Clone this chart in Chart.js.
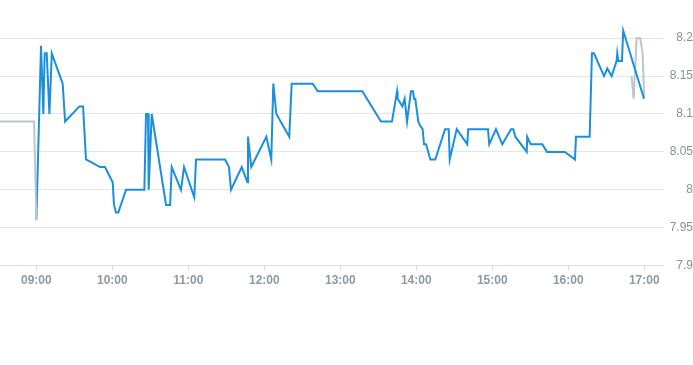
<!DOCTYPE html>
<html>
<head>
<meta charset="utf-8">
<script src="https://cdn.jsdelivr.net/npm/chart.js@4/dist/chart.umd.min.js"></script>
<style>
  html, body { margin: 0; padding: 0; background: #fff; }
  #wrap { position: relative; width: 693px; height: 365px; }
</style>
</head>
<body>
<div id="wrap"><canvas id="chart"></canvas></div>
<script>
// axis range and ticks
const xMin = '08:31:18';
const xMax = '17:15:12';
const xTickLabels = ['09:00', '10:00', '11:00', '12:00', '13:00', '14:00', '15:00', '16:00', '17:00'];
const yTickLabels = [7.9, 7.95, 8, 8.05, 8.1, 8.15, 8.2];

// pre-market (grey)
const preTimes = ['08:30:00', '08:58:12', '09:00:00'];
const preValues = [8.09, 8.09, 7.96];

// session (blue)
const sessionTimes = [
  '09:00:00', '09:03:42', '09:05:30', '09:06:36', '09:08:12', '09:10:18', '09:12:12', '09:20:48', '09:22:42', '09:34:00',
  '09:36:54', '09:39:12', '09:50:18', '09:54:12', '10:00:18', '10:01:18', '10:02:54', '10:04:42', '10:10:48', '10:25:18',
  '10:26:36', '10:28:12', '10:28:42', '10:31:06', '10:42:24', '10:45:36', '10:46:54', '10:54:12', '10:56:36', '11:04:42',
  '11:06:06', '11:29:00', '11:32:06', '11:33:42', '11:42:12', '11:46:36', '11:47:06', '11:49:42', '12:01:36', '12:05:30',
  '12:07:06', '12:09:30', '12:19:42', '12:21:36', '12:38:12', '12:42:12', '13:17:24', '13:32:06', '13:40:48', '13:44:48',
  '13:45:18', '13:49:00', '13:50:48', '13:52:42', '13:55:00', '13:55:48', '13:57:24', '13:58:12', '13:59:12', '14:01:36',
  '14:02:54', '14:05:00', '14:06:06', '14:07:42', '14:11:06', '14:15:00', '14:22:42', '14:25:36', '14:26:24', '14:31:54',
  '14:40:18', '14:41:00', '14:56:36', '14:57:36', '15:02:54', '15:07:54', '15:14:48', '15:16:36', '15:18:12', '15:27:12',
  '15:27:36', '15:30:18', '15:39:30', '15:43:12', '15:57:24', '16:05:18', '16:06:06', '16:16:54', '16:18:42', '16:20:18',
  '16:28:12', '16:30:48', '16:34:18', '16:38:12', '16:38:42', '16:39:30', '16:42:24', '16:43:24', '16:59:48'
];
const sessionValues = [
  7.96, 8.19, 8.10, 8.18, 8.18, 8.10, 8.18, 8.14, 8.09, 8.11,
  8.11, 8.04, 8.03, 8.03, 8.01, 7.98, 7.97, 7.97, 8.00, 8.00,
  8.10, 8.10, 8.00, 8.10, 7.98, 7.98, 8.03, 8.00, 8.03, 7.99,
  8.04, 8.04, 8.03, 8.00, 8.03, 8.01, 8.07, 8.03, 8.07, 8.04,
  8.14, 8.10, 8.07, 8.14, 8.14, 8.13, 8.13, 8.09, 8.09, 8.13,
  8.12, 8.11, 8.12, 8.09, 8.12, 8.13, 8.13, 8.12, 8.12, 8.09,
  8.085, 8.08, 8.06, 8.06, 8.04, 8.04, 8.08, 8.08, 8.04, 8.08,
  8.06, 8.08, 8.08, 8.06, 8.08, 8.06, 8.08, 8.08, 8.07, 8.05,
  8.07, 8.06, 8.06, 8.05, 8.05, 8.04, 8.07, 8.07, 8.18, 8.18,
  8.15, 8.16, 8.15, 8.17, 8.18, 8.17, 8.17, 8.21, 8.12
];

// after hours (grey)
const postTimes = ['16:50:00', '16:51:36', '16:54:00', '16:56:48', '16:58:42', '17:00:00'];
const postValues = [8.15, 8.12, 8.20, 8.20, 8.18, 8.12];

function toMin(s) {
  const p = s.split(':').map(Number);
  return p[0] * 60 + p[1] + (p[2] || 0) / 60;
}
function pad(n) { return (n < 10 ? '0' : '') + n; }
function points(times, values) {
  return times.map((t, i) => ({ x: toMin(t), y: values[i] }));
}

const grey = '#bcc6ce';
const blue = '#1a8fdd';

new Chart(document.getElementById('chart'), {
  type: 'line',
  data: {
    datasets: [
      // pre-market drawn over the start of the session line
      { data: points(preTimes, preValues), borderColor: grey, borderWidth: 2, pointRadius: 0, tension: 0, order: 0 },
      { data: points(postTimes, postValues), borderColor: grey, borderWidth: 2, pointRadius: 0, tension: 0, order: 2 },
      { data: points(sessionTimes, sessionValues), borderColor: blue, borderWidth: 2, pointRadius: 0, tension: 0, order: 1 }
    ]
  },
  options: {
    responsive: true,
    maintainAspectRatio: false,
    animation: false,
    layout: { padding: { top: 23, bottom: 74, left: 0, right: 0 } },
    plugins: { legend: { display: false }, tooltip: { enabled: false } },
    scales: {
      x: {
        type: 'linear',
        min: toMin(xMin),
        max: toMin(xMax),
        afterBuildTicks(scale) {
          scale.ticks = xTickLabels.map(l => ({ value: toMin(l) }));
        },
        ticks: {
          color: '#8e99a4',
          font: { family: 'Liberation Sans', size: 12, weight: 'bold' },
          padding: 3,
          maxRotation: 0,
          autoSkip: false,
          callback: v => pad(Math.floor(v / 60)) + ':' + pad(Math.round(v % 60))
        },
        grid: { drawOnChartArea: false, drawTicks: true, tickLength: 5, color: '#d8dde3' },
        border: { color: '#d8dde3' }
      },
      y: {
        position: 'right',
        min: 7.9,
        max: 8.22,
        afterBuildTicks(scale) {
          scale.ticks = yTickLabels.map(v => ({ value: v }));
        },
        afterFit(scale) { scale.width = 29.5; },
        ticks: {
          color: '#8a9099',
          font: { family: 'Liberation Sans', size: 12 },
          padding: 0,
          crossAlign: 'far',
          callback: v => String(+v.toFixed(2))
        },
        grid: { color: '#e3e6ea', drawTicks: false },
        border: { display: false }
      }
    }
  }
});
</script>
</body>
</html>
